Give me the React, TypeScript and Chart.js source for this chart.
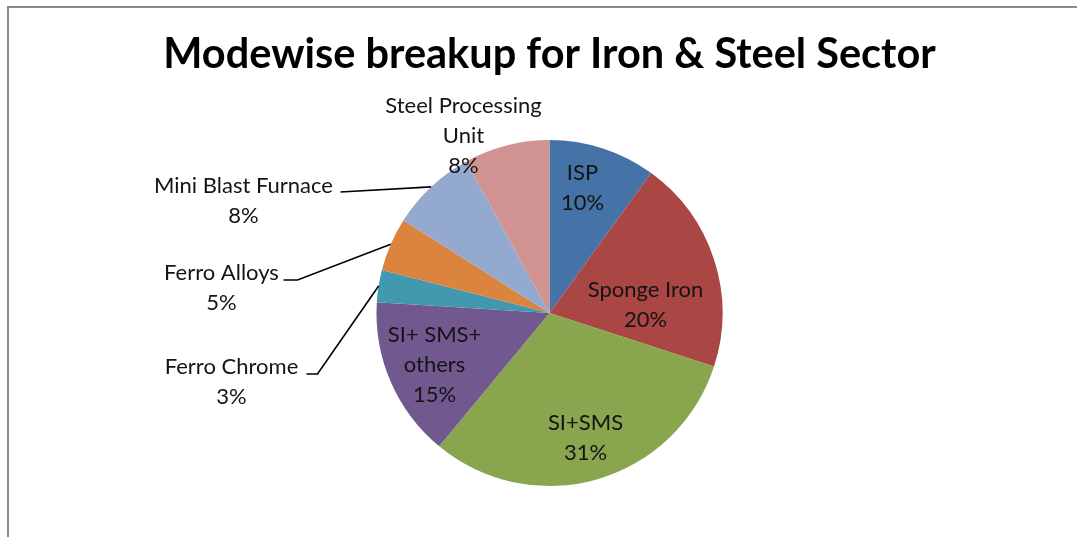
import React, { useEffect, useRef } from "react";
import { Chart, registerables } from "chart.js";

Chart.register(...registerables);

const titleText = "Modewise breakup for Iron & Steel Sector";
const categories: (string | string[])[] = [
  "ISP",
  "Sponge Iron",
  "SI+SMS",
  ["SI+ SMS+", "others"],
  "Ferro Chrome",
  "Ferro Alloys",
  "Mini Blast Furnace",
  ["Steel Processing", "Unit"],
];
const shares = [10, 20, 31, 15, 3, 5, 8, 8];
const sliceColors = ["#4572A7", "#AA4643", "#89A54E", "#71588F", "#4198AF", "#DB843D", "#93A9CF", "#D19392"];

// label layout relative to pie centre: centre x offset, first baseline offset, leader line start points
const labelPlacement: { dx: number; dy: number; leader?: number[][] }[] = [
  { dx: 33, dy: -133 },
  { dx: 96, dy: -16 },
  { dx: 36, dy: 117 },
  { dx: -115, dy: 29 },
  { dx: -318, dy: 61, leader: [[-243, 61], [-232, 61]] },
  { dx: -328, dy: -33, leader: [[-266, -33], [-252, -33]] },
  { dx: -306, dy: -120, leader: [[-209, -121]] },
  { dx: -86, dy: -200 },
];

const LABEL_FONT = "22px Lato";
const LINE_GAP = 30;

const framePlugin = {
  id: "frame",
  beforeDraw(chart: any) {
    const ctx = chart.ctx;
    ctx.save();
    ctx.fillStyle = "#ffffff";
    ctx.fillRect(0, 0, chart.width, chart.height);
    ctx.strokeStyle = "#8a8a8a";
    ctx.lineWidth = 2;
    ctx.beginPath();
    ctx.moveTo(8, chart.height + 2);
    ctx.lineTo(8, 7);
    ctx.lineTo(chart.width + 2, 7);
    ctx.stroke();
    ctx.restore();
  },
};

const labelPlugin = {
  id: "sliceLabels",
  afterDatasetsDraw(chart: any) {
    const ctx = chart.ctx;
    const meta = chart.getDatasetMeta(0);
    const labels = chart.data.labels;
    const values = chart.data.datasets[0].data;
    ctx.save();
    ctx.font = LABEL_FONT;
    ctx.textAlign = "center";
    ctx.textBaseline = "alphabetic";
    ctx.fillStyle = "#141414";
    ctx.strokeStyle = "#000000";
    ctx.lineWidth = 1.6;
    meta.data.forEach((arc: any, i: number) => {
      const { x, y, startAngle, endAngle, outerRadius } = arc.getProps(["x", "y", "startAngle", "endAngle", "outerRadius"], true);
      const place = labelPlacement[i];
      const name = labels[i];
      const lines = (Array.isArray(name) ? name.slice() : [name]) as string[];
      lines.push(`${values[i]}%`);
      lines.forEach((t, k) => {
        ctx.fillText(t, x + place.dx, y + place.dy + k * LINE_GAP);
      });
      if (place.leader) {
        const mid = (startAngle + endAngle) / 2;
        const ex = x + Math.cos(mid) * outerRadius;
        const ey = y + Math.sin(mid) * outerRadius;
        ctx.beginPath();
        place.leader.forEach((p, k) => {
          if (k === 0) ctx.moveTo(x + p[0], y + p[1]);
          else ctx.lineTo(x + p[0], y + p[1]);
        });
        ctx.lineTo(ex, ey);
        ctx.stroke();
      }
    });
    ctx.restore();
  },
};

export default function App() {
  const canvasRef = useRef<HTMLCanvasElement | null>(null);

  useEffect(() => {
    const canvas = canvasRef.current;
    if (!canvas) return;
    const chart = new Chart(canvas, {
      type: "pie",
      data: {
        labels: categories as any,
        datasets: [
          {
            data: shares,
            backgroundColor: sliceColors,
            borderWidth: 0,
            offset: 0,
            hoverOffset: 0,
            radius: 173,
          } as any,
        ],
      },
      options: {
        responsive: false,
        maintainAspectRatio: false,
        animation: false,
        events: [],
        layout: { padding: { top: 30, left: 22, right: 0, bottom: 51 } },
        plugins: {
          legend: { display: false },
          tooltip: { enabled: false },
          title: {
            display: true,
            text: titleText,
            color: "#000000",
            font: { family: "Lato", size: 41.5, weight: "bold", lineHeight: 1.2 },
            padding: { top: 0, bottom: 60.2 },
          },
        },
      },
      plugins: [framePlugin, labelPlugin],
    });
    return () => chart.destroy();
  }, []);

  return (
    <div style={{ position: "absolute", left: 0, top: 0, width: 1077, height: 537 }}>
      <canvas ref={canvasRef} width={1077} height={537} style={{ width: 1077, height: 537, display: "block" }} />
    </div>
  );
}
